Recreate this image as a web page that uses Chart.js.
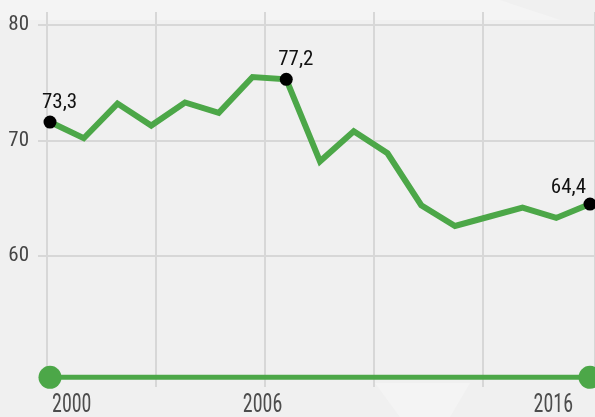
<!DOCTYPE html>
<html>
<head>
<meta charset="utf-8">
<script src="https://cdn.jsdelivr.net/npm/chart.js@4/dist/chart.umd.min.js"></script>
<style>
  html, body { margin: 0; padding: 0; }
  body { width: 595px; height: 417px; background: #f0f0f0; position: relative; overflow: hidden; }
  .bg1 { position: absolute; left: 0; top: 0; width: 595px; height: 417px;
         background: #f4f4f4; clip-path: polygon(0 0, 500px 0, 560px 20px, 0 20px); }
  .bg2 { position: absolute; left: 0; top: 0; width: 595px; height: 417px;
         background: #f4f4f4; clip-path: polygon(375px 383px, 470px 383px, 450px 417px, 400px 417px); }
  canvas { position: absolute; left: 0; top: 0; }
</style>
</head>
<body>
<div class="bg1"></div>
<div class="bg2"></div>
<canvas id="c" width="595" height="417"></canvas>
<script>
// ---- data ----
const years = [2000, 2001, 2002, 2003, 2004, 2005, 2006, 2007, 2008,
               2009, 2010, 2011, 2012, 2013, 2014, 2015, 2016];
const values = [71.6, 70.2, 73.2, 71.3, 73.3, 72.4, 75.5, 75.3, 68.2,
                70.8, 68.9, 64.4, 62.6, 63.4, 64.2, 63.3, 64.5];
const pointLabels = ["73,3", null, null, null, null, null, null, "77,2", null,
                     null, null, null, null, null, null, null, "64,4"];
const yTickValues = [60, 70, 80];
const rangeYears = [2000, 2016];
const rangeLabelYears = [2000, 2006, 2016];
const rangeLabels = ["2000", "2006", "2016"];
const sliderLevel = 49.5;

const GREEN = '#4ca748';
const GRID = '#d7d7d7';
const FONT = "'Liberation Sans Narrow', 'Roboto Condensed', 'DejaVu Sans Condensed', sans-serif";

const labelPlugin = {
  id: 'pointLabels',
  afterDatasetsDraw(chart) {
    const ctx = chart.ctx;
    const meta = chart.getDatasetMeta(0);
    ctx.save();
    ctx.font = '21px ' + FONT;
    ctx.fillStyle = '#111';
    ctx.textBaseline = 'alphabetic';
    const last = pointLabels.length - 1;
    pointLabels.forEach((t, i) => {
      if (!t) return;
      const p = meta.data[i];
      if (i === last) {
        ctx.textAlign = 'right';
        ctx.fillText(t, p.x - 4, p.y - 11);
      } else {
        ctx.textAlign = 'left';
        ctx.fillText(t, p.x - 8, p.y - 14);
      }
    });
    // range labels under the slider
    const xs = chart.scales.x;
    const base = chart.chartArea.bottom + 25;
    ctx.font = '25px ' + FONT;
    ctx.fillStyle = '#4d4d4d';
    rangeLabels.forEach((t, i) => {
      const px = xs.getPixelForValue(rangeLabelYears[i]);
      ctx.save();
      let align = 'center', ax = px + 10;
      if (i === 0) { align = 'left'; ax = px + 2; }
      if (i === rangeLabels.length - 1) { align = 'right'; ax = px - 17; }
      ctx.translate(ax, base);
      ctx.scale(0.8, 1);
      ctx.textAlign = align;
      ctx.fillText(t, 0, 0);
      ctx.restore();
    });
    ctx.restore();
  }
};

new Chart(document.getElementById('c'), {
  type: 'line',
  data: {
    datasets: [
      {
        data: years.map((y, i) => ({ x: y, y: values[i] })),
        borderColor: GREEN,
        borderWidth: 6,
        borderJoinStyle: 'miter',
        tension: 0,
        pointRadius: pointLabels.map(l => l ? 6.5 : 0),
        pointHoverRadius: pointLabels.map(l => l ? 6.5 : 0),
        pointBackgroundColor: '#000',
        pointBorderWidth: 0,
        clip: false,
        order: 0
      },
      {
        data: rangeYears.map(y => ({ x: y, y: sliderLevel })),
        borderColor: GREEN,
        borderWidth: 5,
        pointRadius: 11.5,
        pointBackgroundColor: GREEN,
        pointBorderWidth: 0,
        clip: false,
        order: 1
      }
    ]
  },
  options: {
    responsive: false,
    animation: false,
    events: [],
    layout: { autoPadding: false, padding: { top: 12, bottom: 30, left: 0, right: 0 } },
    plugins: { legend: { display: false }, tooltip: { enabled: false } },
    scales: {
      x: {
        type: 'linear',
        min: 1999.911,
        max: 2016.148,
        display: false
      },
      xg: {
        type: 'linear',
        position: 'bottom',
        min: 0,
        max: 548 / 109,
        ticks: { display: false, stepSize: 1 },
        grid: { color: GRID, lineWidth: 2, drawTicks: false },
        border: { display: false },
        afterFit(s) { s.height = 0; s.paddingLeft = 0; s.paddingRight = 0; }
      },
      y: {
        type: 'linear',
        min: 48.66,
        max: 81.13,
        afterBuildTicks(s) { s.ticks = yTickValues.map(v => ({ value: v })); },
        ticks: {
          font: { family: FONT, size: 21, lineHeight: 1 },
          color: '#454545',
          padding: 9
        },
        grid: { color: GRID, lineWidth: 2, tickLength: 9 },
        border: { display: false },
        afterFit(s) { s.width = 47; s.paddingTop = 0; s.paddingBottom = 0; }
      }
    }
  },
  plugins: [labelPlugin]
});
</script>
</body>
</html>
